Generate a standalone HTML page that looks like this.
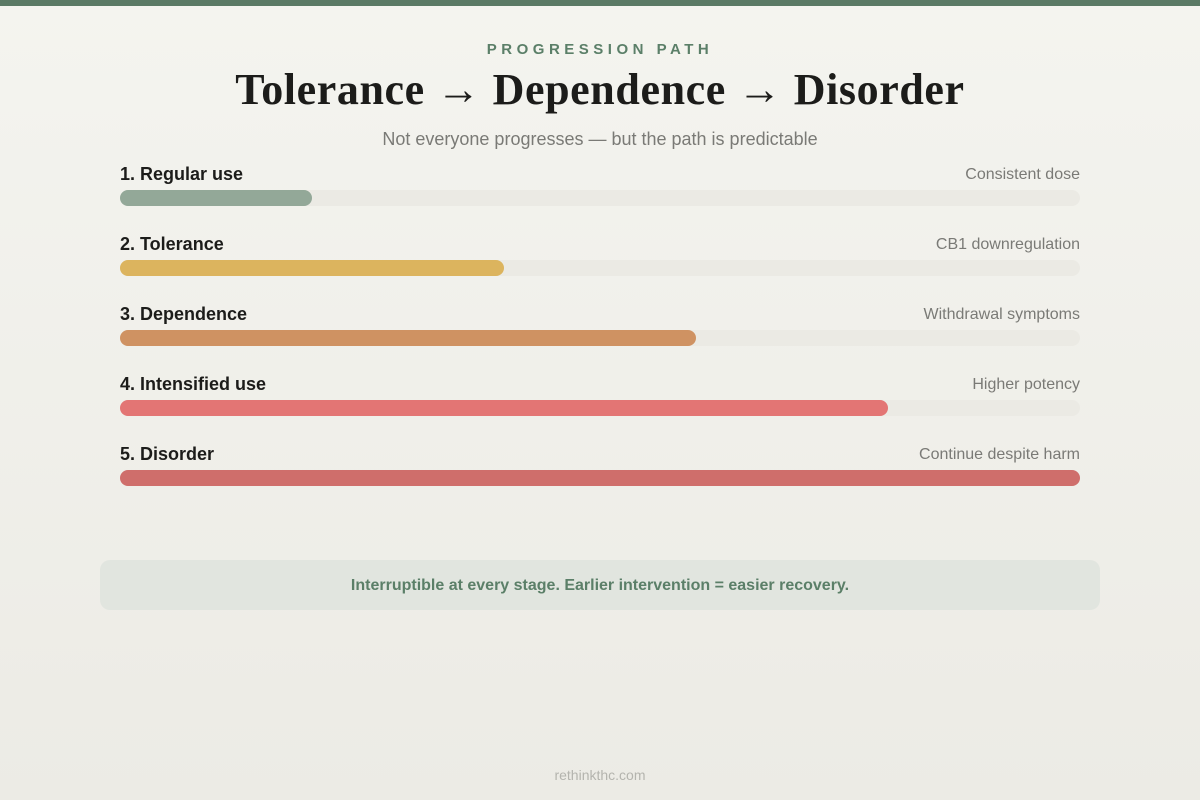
<!DOCTYPE html>
<html><head><meta charset="utf-8"><style>
*{margin:0;padding:0;box-sizing:border-box}
body{width:1200px;height:800px;position:relative;overflow:hidden;background:linear-gradient(#f4f4ef,#ecebe5);font-family:"Liberation Sans",Arial,sans-serif}
.top{position:absolute;left:0;top:0;width:1200px;height:6px;background:#5b7a65}
.eyebrow{position:absolute;top:41px;width:100%;text-align:center;font-size:15px;font-weight:bold;letter-spacing:4.5px;color:#5b7f68}
h1{position:absolute;top:64px;width:100%;text-align:center;font-family:"Liberation Serif",serif;font-size:44px;letter-spacing:0.6px;font-weight:bold;color:#1c1c1a}
.sub{position:absolute;top:129px;width:100%;text-align:center;font-size:18px;color:#7a7a76}
.row{position:absolute;left:120px;width:960px}
.lab{position:absolute;left:0;top:-10px;font-size:18px;font-weight:bold;color:#1c1c1a}
.note{position:absolute;right:0;top:-8px;font-size:16px;color:#7a7a76}
.track{position:absolute;left:0;top:16px;width:960px;height:16px;border-radius:8px;background:#ebeae4}
.fill{height:16px;border-radius:8px}
.box{position:absolute;left:100px;top:560px;width:1000px;height:50px;border-radius:10px;background:#e1e5df;text-align:center;line-height:52px;font-size:16px;font-weight:bold;color:#5b7f68}
.foot{position:absolute;top:767px;width:100%;text-align:center;font-size:14px;color:#b4b4ae}
</style></head><body>
<div class="top"></div>
<div class="eyebrow">PROGRESSION PATH</div>
<h1>Tolerance → Dependence → Disorder</h1>
<div class="sub">Not everyone progresses — but the path is predictable</div>
<div class="row" style="top:174px"><div class="lab">1. Regular use</div><div class="note">Consistent dose</div><div class="track"><div class="fill" style="width:192px;background:#93a898"></div></div></div>
<div class="row" style="top:244px"><div class="lab">2. Tolerance</div><div class="note">CB1 downregulation</div><div class="track"><div class="fill" style="width:384px;background:#dcb45e"></div></div></div>
<div class="row" style="top:314px"><div class="lab">3. Dependence</div><div class="note">Withdrawal symptoms</div><div class="track"><div class="fill" style="width:576px;background:#cf9262"></div></div></div>
<div class="row" style="top:384px"><div class="lab">4. Intensified use</div><div class="note">Higher potency</div><div class="track"><div class="fill" style="width:768px;background:#e37574"></div></div></div>
<div class="row" style="top:454px"><div class="lab">5. Disorder</div><div class="note">Continue despite harm</div><div class="track"><div class="fill" style="width:960px;background:#cf6e6b"></div></div></div>
<div class="box">Interruptible at every stage. Earlier intervention = easier recovery.</div>
<div class="foot">rethinkthc.com</div>
</body></html>
